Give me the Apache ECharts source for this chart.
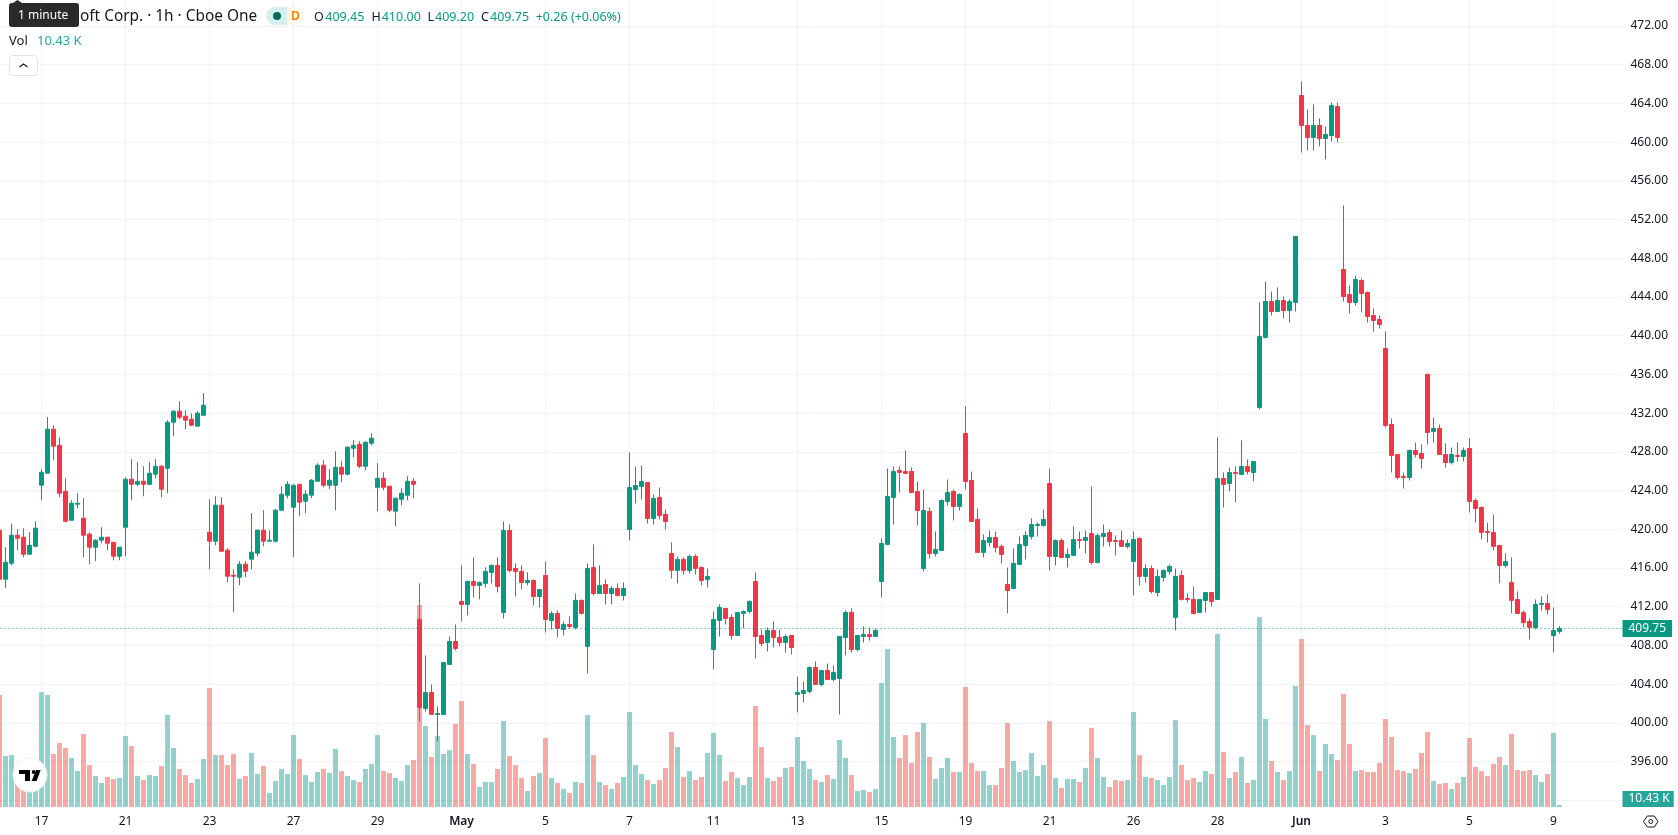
<!DOCTYPE html>
<html>
<head>
<meta charset="utf-8">
<style>html,body{margin:0;padding:0;background:#fff}#chart{width:1678px;height:835px}</style>
<script src="https://cdn.jsdelivr.net/npm/echarts@6/dist/echarts.min.js"></script>
</head>
<body>
<div id="chart"></div>
<script>
const opens = [
419.90,414.84,416.49,419.39,419.18,417.42,418.25,424.55,425.79,430.34,
428.68,423.93,420.93,422.59,421.14,419.49,418.15,418.87,419.18,418.66,
417.22,420.21,425.17,424.65,424.96,424.65,425.69,426.51,426.31,431.06,
432.20,431.68,431.37,430.65,431.78,419.70,418.77,422.49,417.84,415.25,
415.05,416.39,416.91,417.53,419.90,418.77,418.77,421.97,423.52,422.28,
424.65,422.90,423.52,424.96,426.62,424.55,424.55,426.41,425.69,428.37,
428.79,426.51,428.89,424.34,425.27,424.45,421.87,423.10,423.52,424.96,
410.69,401.49,403.14,400.87,400.87,406.04,408.41,412.55,412.24,414.61,
414.20,414.41,415.54,416.27,411.41,419.88,415.95,415.65,414.51,414.71,
413.06,415.23,410.58,411.31,409.65,410.17,409.86,412.65,407.90,416.06,
413.37,414.30,413.37,413.89,413.17,419.98,424.12,424.43,424.84,421.12,
423.29,421.54,417.50,415.75,416.89,415.75,417.20,416.06,414.82,407.59,
410.58,411.82,410.89,409.03,411.31,411.51,414.61,409.03,408.31,409.55,
408.83,408.31,409.03,402.94,403.04,403.25,405.73,403.97,405.42,404.49,
404.59,
408.82,411.41,407.58,408.93,409.13,408.93,414.61,418.43,423.29,426.08,
425.97,425.97,423.91,415.95,421.84,417.50,417.81,422.87,423.91,422.36,
429.90,425.04,421.02,417.61,418.64,419.15,418.23,414.30,413.89,416.37,
418.33,419.26,420.40,420.40,424.73,417.19,418.84,417.09,417.30,418.95,
418.84,419.57,416.57,419.26,419.67,418.84,418.84,418.23,416.68,419.05,
415.13,415.95,413.47,415.02,415.64,410.89,415.23,412.85,412.75,411.41,
412.65,413.47,412.75,425.25,424.73,425.87,425.66,426.49,425.87,
432.59,439.81,443.53,442.50,443.64,442.60,443.43,464.82,461.72,460.48,
461.72,460.37,460.68,463.68,446.84,444.26,443.43,445.70,444.46,442.09,
441.67,438.68,430.83,427.73,425.46,425.36,428.14,427.83,436.00,430.11,
430.42,427.73,426.90,427.63,427.52,428.35,422.98,422.25,419.77,419.67,
418.33,416.26,414.51,412.75,411.41,410.48,409.86,412.23,412.34,409.03,
409.45];
const closes = [
414.84,416.60,419.39,419.08,417.42,418.35,420.11,425.89,430.34,428.58,
423.72,420.83,422.69,422.69,419.39,418.15,418.87,419.18,418.56,417.22,
418.15,425.17,424.65,424.96,424.65,425.79,426.51,424.14,431.06,432.20,
431.58,431.27,430.75,431.99,432.82,418.77,422.49,417.73,415.15,415.15,
416.39,415.67,417.63,419.90,418.77,418.87,421.97,423.62,424.65,424.55,
422.80,423.62,425.07,426.62,424.55,425.07,426.41,425.69,428.48,428.68,
426.51,428.99,429.41,425.27,424.34,421.97,423.21,423.72,424.96,424.65,
401.59,403.14,400.87,400.97,406.24,408.41,407.69,412.24,414.61,414.20,
414.51,415.65,416.27,414.10,419.88,415.75,415.65,414.51,414.71,413.06,
413.79,410.69,411.31,409.76,410.17,409.96,412.65,411.31,415.95,413.37,
414.20,413.37,413.89,413.17,413.89,424.32,424.53,424.94,421.12,423.19,
421.43,420.81,415.75,416.89,415.75,417.20,415.95,414.71,415.13,410.69,
411.93,410.79,409.03,411.41,411.51,412.55,408.93,408.21,409.55,408.83,
408.31,408.93,407.79,403.14,403.35,405.73,403.97,405.42,404.49,405.21,
408.93,
411.41,407.58,409.03,409.13,408.93,409.55,418.54,423.39,425.97,425.87,
425.77,423.80,421.94,421.94,417.50,417.92,422.98,423.80,422.36,423.60,
424.94,420.81,417.61,418.84,419.15,418.12,417.40,413.68,416.47,418.43,
419.36,420.50,420.50,421.02,417.19,418.84,417.09,417.40,418.95,418.84,
419.15,416.57,419.36,419.57,418.74,418.74,418.23,418.54,418.95,415.13,
415.95,413.58,415.13,415.75,416.16,415.13,412.75,412.75,411.30,412.75,
413.47,412.54,425.25,424.63,425.87,425.77,426.49,425.97,427.01,
439.92,443.53,442.50,443.64,442.60,443.53,450.25,461.72,460.48,461.72,
460.37,460.79,463.78,460.48,444.05,443.43,445.81,444.36,441.98,441.57,
441.16,430.73,427.63,425.36,425.36,428.14,427.73,427.32,430.00,430.42,
427.73,426.90,427.73,427.52,428.14,422.88,422.15,419.67,419.67,418.23,
416.26,416.68,412.65,411.30,410.37,409.86,412.23,412.34,411.72,409.55,
409.75];
const highs = [
419.90,418.15,420.59,420.00,420.11,419.70,420.83,426.20,431.58,430.75,
429.51,425.27,423.00,423.72,423.21,419.70,418.97,420.21,419.18,418.66,
418.15,425.38,427.24,426.93,426.51,426.93,427.24,426.62,431.27,432.30,
433.23,432.30,431.99,432.20,434.06,423.10,423.41,423.31,418.04,415.87,
416.70,416.70,421.66,420.00,421.97,419.90,422.07,424.45,424.96,424.65,
424.65,424.03,425.17,426.82,427.13,426.20,428.06,427.03,428.58,429.20,
429.10,429.10,429.92,426.82,425.89,424.45,423.21,424.24,425.48,425.27,
414.41,406.97,403.97,401.70,406.24,408.93,410.17,416.27,414.71,417.09,
414.61,416.06,416.37,417.09,420.81,420.50,416.47,416.27,415.54,414.82,
413.79,416.68,411.51,411.62,410.48,411.00,413.37,412.75,416.47,418.43,
416.27,414.82,414.10,414.41,414.51,427.94,426.49,426.60,424.84,423.60,
424.32,422.05,418.64,417.20,417.09,417.40,417.40,416.16,415.95,411.51,
412.24,411.82,411.20,411.41,411.62,412.65,415.54,409.65,409.86,410.48,
409.65,409.14,409.03,404.80,404.28,405.83,406.35,405.42,406.14,405.93,
408.93,
411.61,411.82,409.03,409.96,409.86,409.75,419.05,426.28,426.49,426.49,
428.14,426.39,424.94,424.11,422.25,419.78,423.08,425.15,424.11,423.70,
432.69,425.97,422.15,419.46,419.88,419.78,418.43,416.05,418.02,419.26,
419.78,421.12,420.71,422.05,426.28,418.95,419.05,418.02,420.29,419.78,
419.88,424.42,419.57,420.50,419.98,419.36,419.88,418.95,419.78,419.15,
416.37,416.26,415.85,415.85,416.37,415.95,415.75,413.37,414.09,412.75,
413.47,413.47,429.49,425.87,426.39,426.49,429.18,427.21,427.01,
443.43,445.60,444.57,444.98,444.05,443.74,450.25,466.26,463.37,463.89,
462.44,461.61,464.09,464.09,453.45,445.19,446.22,445.91,444.57,442.81,
442.09,440.44,431.45,427.73,425.87,428.25,428.97,428.76,436.10,431.55,
430.83,428.87,428.45,428.97,428.45,429.38,423.18,422.36,420.70,421.53,
418.33,417.50,417.09,413.57,411.61,410.79,412.75,413.06,413.27,411.92,
410.00];
const lows = [
414.84,413.91,416.29,417.84,417.11,417.42,418.15,423.00,425.79,427.13,
423.31,420.73,420.93,422.17,417.11,416.39,416.70,418.56,417.84,416.80,
416.80,417.22,423.00,424.45,423.41,424.65,425.27,423.31,423.72,429.61,
431.37,430.34,430.65,430.65,431.78,415.87,418.35,417.73,414.53,411.43,
414.22,415.05,415.87,417.22,418.25,418.77,418.66,421.87,423.21,417.11,
421.35,421.66,423.21,424.96,424.34,424.14,421.97,424.86,425.58,427.44,
426.31,426.10,428.68,421.87,424.03,421.76,420.32,422.49,423.00,423.21,
400.15,401.18,400.87,398.11,400.87,406.04,407.48,410.48,411.10,412.96,
412.75,413.99,414.41,413.48,410.79,415.54,413.06,413.79,414.20,412.13,
411.93,409.34,409.65,408.83,409.03,409.76,409.65,411.20,405.11,413.17,
413.37,412.24,412.24,413.06,412.65,418.85,422.67,423.08,420.60,420.50,
421.02,419.98,414.92,414.41,415.33,415.44,415.33,414.20,413.99,405.52,
408.93,410.17,408.62,409.03,409.76,411.31,406.66,407.90,407.38,407.79,
407.90,407.28,407.07,401.08,402.11,403.04,403.97,403.76,404.49,404.28,
400.87,
406.96,407.27,407.38,408.31,408.51,408.93,412.96,418.43,420.50,423.80,
425.77,423.80,420.40,415.64,416.99,417.19,417.81,422.46,420.91,421.94,
424.11,420.81,417.61,417.09,418.23,417.61,416.47,411.30,413.78,416.37,
416.88,418.95,419.26,420.29,415.75,416.26,416.99,416.05,417.30,418.02,
417.50,416.37,416.47,418.23,418.23,417.30,418.23,418.02,413.16,414.20,
414.51,413.37,413.06,414.61,415.33,409.55,412.65,412.44,411.20,411.41,
411.41,412.03,412.75,422.25,423.91,422.77,425.66,425.66,424.94,
432.38,439.71,442.09,442.50,441.78,441.36,442.50,458.93,459.13,459.13,
459.55,458.20,460.06,459.96,443.53,442.29,443.12,442.40,441.36,440.43,
440.74,430.52,425.87,425.15,424.22,425.05,427.42,426.28,428.76,428.97,
427.73,426.39,426.70,427.01,427.01,421.74,420.70,418.95,418.64,417.81,
414.40,416.06,411.30,411.30,409.86,408.62,409.65,411.61,411.20,407.27,
409.20];
// Traded volume per bar, in thousands of shares.
const volumes = [
582,265,270,140,114,97,192,598,582,276,333,307,255,187,380,218,161,125,156,146,
151,369,317,161,140,166,161,213,478,307,198,166,125,146,250,619,270,270,218,276,
146,161,281,172,213,73,135,198,172,374,250,166,130,182,198,177,302,187,161,140,
130,198,224,374,187,177,151,135,218,244,
1050,421,260,369,276,296,432,551,276,224,104,130,130,198,447,265,218,151,83,161,
177,359,151,125,94,73,130,125,478,270,130,114,94,125,156,494,218,172,140,120,
140,203,390,312,156,187,140,156,281,385,270,135,182,151,114,156,525,312,151,135,
156,203,208,364,239,198,140,130,166,146,348,
255,166,83,88,78,94,645,821,364,255,374,229,390,437,260,146,203,255,182,182,
624,229,187,187,114,114,203,437,239,182,192,281,161,218,447,151,99,146,146,130,
203,411,255,156,104,140,135,140,494,270,156,151,140,114,156,452,218,140,151,130,
187,172,899,286,151,182,260,125,140,
988,458,239,182,140,187,629,874,426,374,187,328,276,244,588,328,187,192,182,182,
229,458,364,192,187,177,198,281,390,135,120,125,94,125,156,359,208,187,161,224,
260,218,380,192,187,192,166,130,172,385,10.43];
const tickLabels = ['17','21','23','27','29','May','5','7','11','13','15','19','21','26','28','Jun','3','5','9'];
const monthLabels = ['May','Jun'];
const headerValues = {O:'409.45',H:'410.00',L:'409.20',C:'409.75'};
const changeText = '+0.26 (+0.06%)';
const volumeText = '10.43 K';

const UP = '#089981', DOWN = '#F23645', VOL_UP = 'rgba(38,166,154,0.5)', VOL_DOWN = 'rgba(239,83,80,0.5)';
const GRID_LINE = '#f1f2f5', INK = '#131722', FONT = '"Noto Sans", sans-serif';

// Date ticks fall on every 14th bar; a few empty slots are left after the last bar.
const FIRST_TICK = 7, TICK_STEP = 14, SLOTS = 271;
const isTick = i => i >= FIRST_TICK && (i - FIRST_TICK) % TICK_STEP === 0;
const categories = Array.from({length: SLOTS}, (_, i) => isTick(i) ? (tickLabels[(i - FIRST_TICK) / TICK_STEP] || '') : '');
const candles = opens.map((o, i) => [o, closes[i], lows[i], highs[i]]);
const volumeBars = volumes.map((v, i) => ({value: v, itemStyle: {color: closes[i] >= opens[i] ? VOL_UP : VOL_DOWN}}));
const lastClose = closes[closes.length - 1];
const lastVolume = volumes[volumes.length - 1];

function label(text, x, y, fill, size, weight) {
  return {type: 'text', z: 100, silent: true, style: {
    text, x, y, fill, font: (weight || 400) + ' ' + (size || 13) + 'px ' + FONT,
    textAlign: 'left', textVerticalAlign: 'middle', align: 'left', verticalAlign: 'middle'
  }};
}
function shape(type, s, style) { return {type, z: 100, silent: true, shape: s, style}; }

const READOUT_Y = 17;
const header = [
  // Symbol line
  label('oft Corp. · 1h · Cboe One', 80, READOUT_Y, INK, 15.4),
  // Market status and delay badges
  shape('rect', {x: 266, y: 7, width: 21, height: 18, r: [9, 0, 0, 9]}, {fill: '#d5efec'}),
  shape('circle', {cx: 277, cy: 16, r: 4}, {fill: '#006b5b'}),
  shape('rect', {x: 287, y: 7, width: 18, height: 18, r: [0, 9, 9, 0]}, {fill: '#fff5e8'}),
  label('D', 291, READOUT_Y, '#f57c00', 12, 600),
  // OHLC readout
  label('O', 314, READOUT_Y, INK, 12.5), label(headerValues.O, 325.3, READOUT_Y, UP, 12.5),
  label('H', 371.5, READOUT_Y, INK, 12.5), label(headerValues.H, 381.7, READOUT_Y, UP, 12.5),
  label('L', 427.5, READOUT_Y, INK, 12.5), label(headerValues.L, 435, READOUT_Y, UP, 12.5),
  label('C', 481, READOUT_Y, INK, 12.5), label(headerValues.C, 490, READOUT_Y, UP, 12.5),
  label(changeText, 535.7, READOUT_Y, UP, 12.5),
  // Volume legend
  label('Vol', 9, 41, INK, 13), label(volumeText, 37, 41, '#26a69a', 13),
  // Collapse button
  shape('rect', {x: 9.5, y: 55.5, width: 28, height: 20, r: 3}, {fill: '#fff', stroke: '#e0e3eb', lineWidth: 1}),
  shape('polyline', {points: [[19.5, 67], [23.5, 64], [27.5, 67]]}, {fill: 'none', stroke: INK, lineWidth: 1.2}),
  // "1 minute" hint on the countdown
  shape('polygon', {points: [[13, 3], [17.5, 0], [22, 3]]}, {fill: '#2a2a2a'}),
  shape('rect', {x: 9, y: 3, width: 70, height: 24, r: 3}, {fill: '#2a2a2a'}),
  label('1 minute', 18, 15.5, '#ffffff', 12),
  // Watermark badge
  shape('circle', {cx: 30, cy: 775, r: 17}, {fill: '#fff', stroke: '#eef0f3', lineWidth: 1}),
  shape('polygon', {points: [[19, 770], [30, 770], [30, 781], [25, 781], [25, 774], [19, 774]]}, {fill: '#000'}),
  shape('circle', {cx: 33.7, cy: 772, r: 2}, {fill: '#000'}),
  shape('polygon', {points: [[40.7, 770], [36.2, 770], [31.6, 781], [36.6, 781]]}, {fill: '#000'}),
  // Scale settings icon
  shape('polygon', {points: [[1643.5, 821.5], [1647.3, 816], [1654.3, 816], [1658, 821.5], [1654.3, 827], [1647.3, 827]]}, {fill: 'none', stroke: INK, lineWidth: 1}),
  shape('circle', {cx: 1650.8, cy: 821.5, r: 2}, {fill: 'none', stroke: INK, lineWidth: 1})
];

const chart = echarts.init(document.getElementById('chart'), null, {renderer: 'canvas'});
chart.setOption({
  animation: false,
  backgroundColor: '#ffffff',
  textStyle: {fontFamily: FONT},
  graphic: header,
  grid: [
    {left: -3.5, width: 1626, top: 25.92, height: 774.4, outerBoundsMode: 'none'},
    {left: -3.5, width: 1626, top: 0, height: 807, outerBoundsMode: 'none'}
  ],
  xAxis: [
    {type: 'category', gridIndex: 0, data: categories, show: false},
    {type: 'category', gridIndex: 1, data: categories,
      axisLine: {show: false}, axisTick: {show: false},
      axisLabel: {interval: i => isTick(i), color: INK, fontSize: 12, margin: 9, fontFamily: FONT, hideOverlap: false,
        formatter: v => monthLabels.includes(v) ? '{m|' + v + '}' : v,
        rich: {m: {fontWeight: 600, fontSize: 12, color: INK, fontFamily: FONT}}},
      splitLine: {show: true, alignWithLabel: true, interval: i => isTick(i), lineStyle: {color: GRID_LINE, width: 1}}
    }
  ],
  yAxis: [
    {type: 'value', gridIndex: 0, position: 'right', min: 392, max: 472, interval: 4, scale: true,
      axisLine: {show: false}, axisTick: {show: false},
      axisLabel: {color: INK, fontSize: 12, margin: 8, padding: [1, 0, 0, 0], fontFamily: FONT, showMinLabel: false, formatter: v => v.toFixed(2)},
      splitLine: {show: true, lineStyle: {color: GRID_LINE, width: 1}}},
    // Volume shares the lower part of the pane; its scale keeps the bars low under the candles.
    {type: 'value', gridIndex: 1, min: 0, max: 4196, show: false, splitLine: {show: false}}
  ],
  series: [
    {type: 'bar', name: 'Vol', xAxisIndex: 1, yAxisIndex: 1, data: volumeBars, barWidth: 5, z: 1, silent: true,
      markLine: {silent: true, symbol: 'none', animation: false, data: [{yAxis: lastVolume}],
        lineStyle: {color: 'transparent', width: 0},
        label: {show: true, position: 'end', distance: 0, offset: [0, -6], formatter: () => volumeText,
          color: '#fff', backgroundColor: '#26a69a', fontSize: 12, fontFamily: FONT, padding: [1, 4, 1, 6], lineHeight: 14}}},
    {type: 'candlestick', name: 'MSFT', xAxisIndex: 0, yAxisIndex: 0, data: candles, barWidth: 4, z: 2, silent: true,
      itemStyle: {color: UP, color0: DOWN, borderColor: UP, borderColor0: DOWN, borderWidth: 1},
      markLine: {silent: true, symbol: 'none', animation: false, data: [{yAxis: lastClose}],
        lineStyle: {color: UP, width: 1, type: [1, 3]},
        label: {show: true, position: 'end', distance: 0, formatter: () => lastClose.toFixed(2),
          color: '#fff', backgroundColor: UP, fontSize: 12, fontFamily: FONT, padding: [1, 6, 1, 6], lineHeight: 15}}}
  ]
});
</script>
</body>
</html>
